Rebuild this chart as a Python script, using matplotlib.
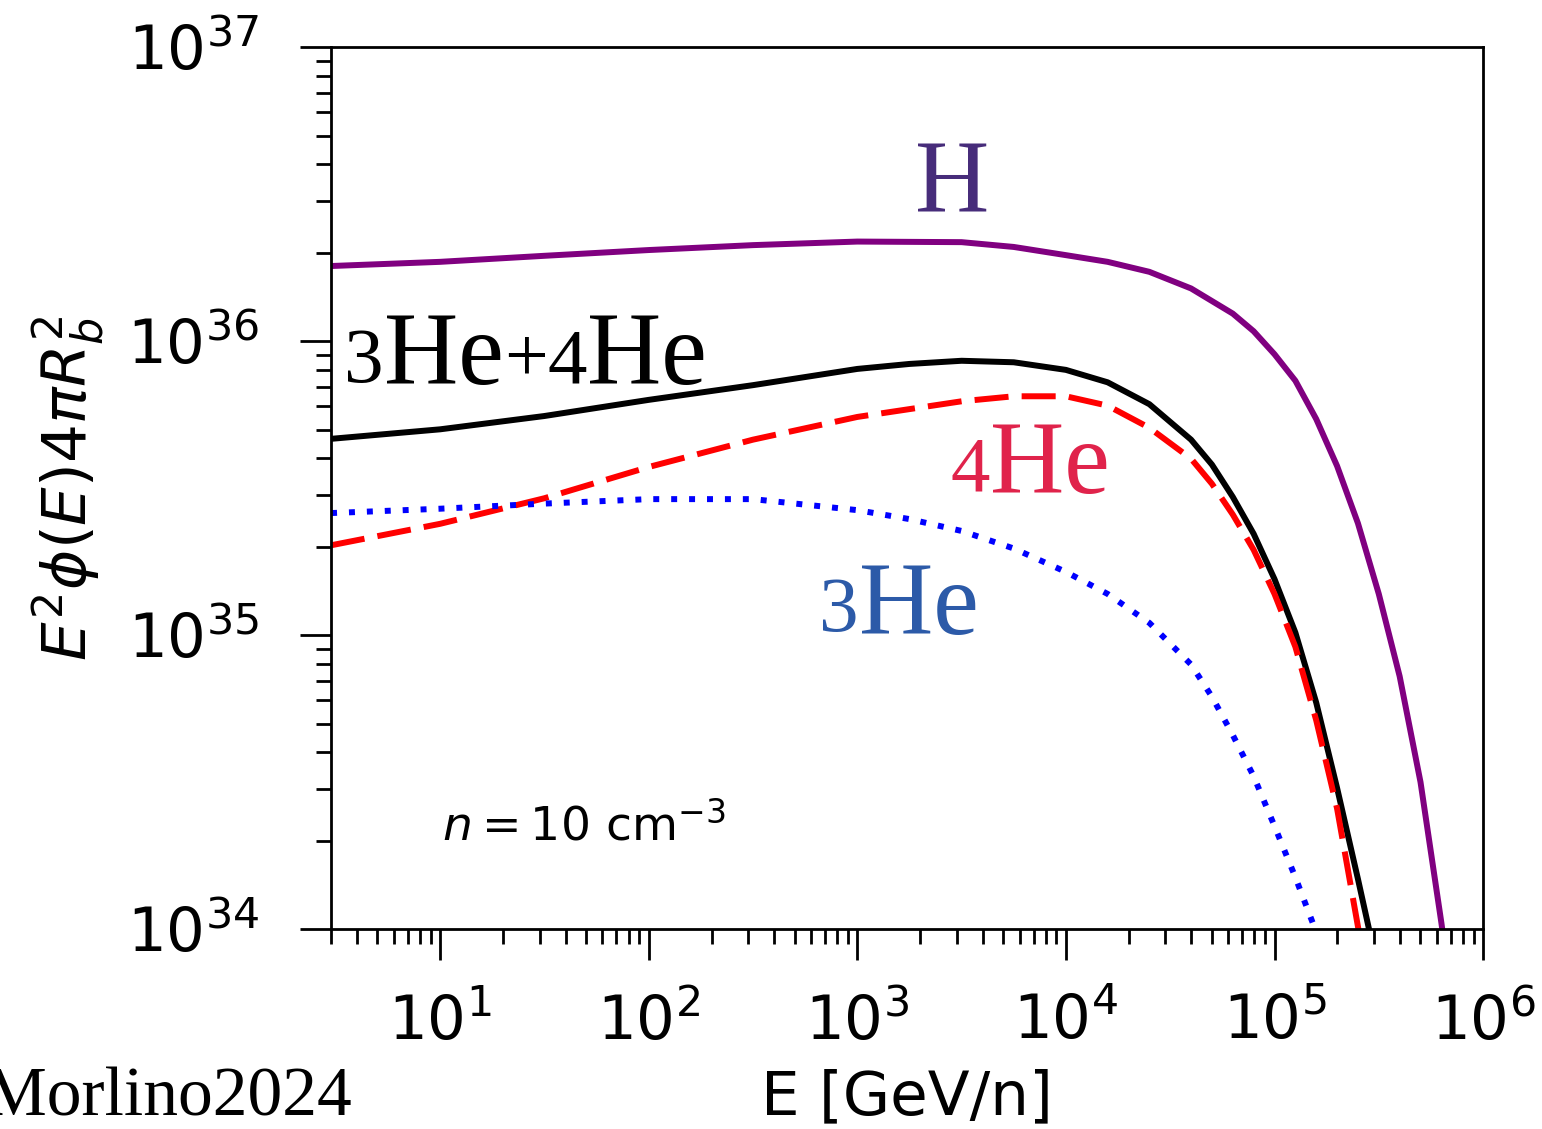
import matplotlib
matplotlib.use('Agg')
import matplotlib.pyplot as plt
import matplotlib.transforms as mtransforms


# E [GeV/n] and E^2 phi(E) 4 pi R_b^2 for each species, n = 10 cm^-3
E_H = [3, 10, 31.6, 100, 316, 1e3, 3162, 5623, 1e4, 1.585e4, 2.512e4, 3.981e4,
       6.31e4, 7.943e4, 1e5, 1.259e5, 1.585e5, 1.995e5, 2.512e5, 3.162e5,
       3.981e5, 5.012e5, 6.31e5, 6.46e5]
F_H = [1.80e36, 1.86e36, 1.95e36, 2.04e36, 2.12e36, 2.18e36, 2.17e36, 2.09e36,
       1.96e36, 1.86e36, 1.72e36, 1.51e36, 1.24e36, 1.08e36, 9.02e35, 7.33e35,
       5.43e35, 3.76e35, 2.40e35, 1.38e35, 7.24e34, 3.16e34, 1.05e34, 9.3e33]

E_HE = [3, 10, 31.6, 100, 316, 1e3, 1778, 3162, 5623, 1e4, 1.585e4, 2.512e4,
        3.981e4, 5.012e4, 6.31e4, 7.943e4, 1e5, 1.259e5, 1.585e5, 1.995e5,
        2.512e5, 2.884e5]
F_HE = [4.65e35, 5.01e35, 5.56e35, 6.31e35, 7.08e35, 8.04e35, 8.36e35, 8.57e35,
        8.47e35, 7.98e35, 7.24e35, 6.10e35, 4.62e35, 3.80e35, 2.95e35, 2.21e35,
        1.55e35, 1.02e35, 5.89e34, 3.02e34, 1.48e34, 9.5e33]

E_HE4 = [3, 10, 31.6, 100, 316, 1e3, 3162, 5623, 1e4, 1.585e4, 2.512e4, 3.981e4,
         5.012e4, 6.31e4, 7.943e4, 1e5, 1.259e5, 1.585e5, 1.995e5, 2.512e5, 2.57e5]
F_HE4 = [2.02e35, 2.39e35, 2.92e35, 3.73e35, 4.62e35, 5.52e35, 6.24e35, 6.49e35,
         6.49e35, 6.03e35, 5.07e35, 3.98e35, 3.27e35, 2.57e35, 1.95e35, 1.38e35,
         9.12e34, 5.13e34, 2.57e34, 1.02e34, 9.3e33]

E_HE3 = [3, 10, 31.6, 100, 316, 1e3, 1778, 3162, 5623, 1e4, 1.585e4, 2.512e4,
         3.981e4, 5.012e4, 6.31e4, 7.943e4, 1e5, 1.259e5, 1.585e5]
F_HE3 = [2.60e35, 2.69e35, 2.80e35, 2.90e35, 2.90e35, 2.66e35, 2.48e35, 2.26e35,
         1.97e35, 1.64e35, 1.38e35, 1.10e35, 7.94e34, 6.17e34, 4.57e34, 3.31e34,
         2.24e34, 1.50e34, 9.77e33]

SERIF = 'Liberation Serif'


def iso_label(ax, x, y, parts, color):
    """Write a label piece by piece so the mass numbers can be smaller."""
    fig = ax.figure
    renderer = fig.canvas.get_renderer()
    shift = 0.0
    for s, size, rise in parts:
        tr = mtransforms.offset_copy(ax.transAxes, fig=fig, x=shift, y=rise, units='dots')
        t = ax.text(x, y, s, transform=tr, fontsize=size, family=SERIF,
                    color=color, ha='left', va='baseline')
        shift += t.get_window_extent(renderer).width


fig = plt.figure(figsize=(15.42, 11.29), dpi=100)
ax = fig.add_axes([0.2147, 0.1771, 0.7471, 0.7812])

lw = 4.3
ax.plot(E_H, F_H, color='purple', lw=lw)
ax.plot(E_HE, F_HE, color='black', lw=lw)
ax.plot(E_HE4, F_HE4, color='red', lw=lw, dashes=(5.7, 2.2))
ax.plot(E_HE3, F_HE3, color='blue', lw=lw, dashes=(1.0, 2.0))

ax.set_xscale('log')
ax.set_yscale('log')
ax.set_xlim(3, 1e6)
ax.set_ylim(1e34, 1e37)

for side in ['top', 'right', 'bottom', 'left']:
    ax.spines[side].set_linewidth(2.0)
ax.tick_params(which='major', direction='out', length=22, width=2.0, labelsize=44)
ax.tick_params(which='minor', direction='out', length=11, width=2.0)
ax.tick_params(axis='y', which='major', pad=30)
ax.tick_params(axis='x', which='major', pad=24)

ax.set_xlabel('E [GeV/n]', fontsize=44)
ax.set_ylabel(r'$E^2\phi(E)4\pi R_b^2$', fontsize=44)
ax.xaxis.set_label_coords(0.5, -0.158)
ax.yaxis.set_label_coords(-0.195, 0.5)

big, small = 74, 57
iso_label(ax, 0.507, 0.8129, [('H', big, 0)], '#472c7a')
iso_label(ax, 0.0115, 0.6179, [('3', small, 2), ('He', big, 0), ('+', 56, 4),
                               ('4', small, 2), ('He', big, 0)], 'black')
iso_label(ax, 0.538, 0.4943, [('4', small, 3), ('He', big, 0)], '#e0234b')
iso_label(ax, 0.4235, 0.3345, [('3', small, 3), ('He', big, 0)], '#2c5aa8')

ax.text(0.0964, 0.1009, r'$n = 10\ \mathrm{cm}^{-3}$', transform=ax.transAxes,
        fontsize=34, ha='left', va='baseline')

fig.text(352 / 1542, 14 / 1129, 'Morlino2024', fontsize=50, family=SERIF,
         ha='right', va='baseline')

fig.savefig('out.png', dpi=100)
